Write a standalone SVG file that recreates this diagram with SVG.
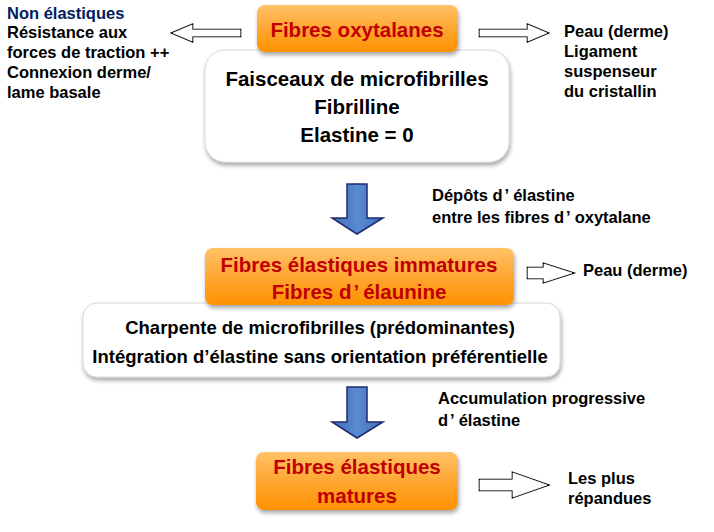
<svg xmlns="http://www.w3.org/2000/svg" xmlns:xlink="http://www.w3.org/1999/xlink" width="714" height="532" viewBox="0 0 714 532">
<defs>
<linearGradient id="og" x1="0" y1="0" x2="0" y2="1">
<stop offset="0" stop-color="#ffc266"/>
<stop offset="0.5" stop-color="#ffa733"/>
<stop offset="1" stop-color="#ff9100"/>
</linearGradient>
<linearGradient id="bg" x1="0" y1="0" x2="1" y2="0">
<stop offset="0" stop-color="#3d6fb8"/>
<stop offset="0.5" stop-color="#5a8ad0"/>
<stop offset="1" stop-color="#3d6fb8"/>
</linearGradient>
<filter id="sh" x="-10%" y="-20%" width="120%" height="150%">
<feDropShadow dx="1" dy="3" stdDeviation="2" flood-color="#000" flood-opacity="0.35"/>
</filter>
<path id="a1" d="M173,33 L192,25 L192,30 L240,30 L240,36 L192,36 L192,41 Z"/>
<path id="a2" d="M480,30 L528,30 L528,25 L547,33 L528,41 L528,36 L480,36 Z"/>
<path id="a3" d="M528,268 L544,268 L544,264 L572,273 L544,282 L544,278 L528,278 Z"/>
<path id="a4" d="M480,480 L513,480 L513,473 L547,485 L513,497 L513,490 L480,490 Z"/>
<style>
text{font-family:"Liberation Sans",Arial,sans-serif;font-weight:bold}
.t{font-size:20.5px;fill:#000;text-anchor:middle}
.t2{font-size:18.5px;fill:#000;text-anchor:middle}
.r{font-size:20.5px;fill:#c00000;text-anchor:middle}
.s{font-size:16.5px;fill:#000}
.n{fill:#002060}
.ob{fill:url(#og);filter:url(#sh)}
.wb{fill:#fff;stroke:#d8d8d8;stroke-width:1;filter:url(#sh)}
.ho{fill:#fff;stroke:#000;stroke-width:2.6;stroke-linejoin:miter}
.hi{fill:#fff;stroke:#fff;stroke-width:0.8;stroke-linejoin:miter}
.ba{fill:url(#bg);stroke:#1f2a6e;stroke-width:1.5}
</style>
</defs>
<rect width="714" height="532" fill="#fff"/>
<g id="connectors">
<use xlink:href="#a1" class="ho"/><use xlink:href="#a1" class="hi"/>
<use xlink:href="#a2" class="ho"/><use xlink:href="#a2" class="hi"/>
<path class="ba" d="M347,184 L367,184 L367,218 L383,218 L357,234 L332,218 L347,218 Z"/>
<use xlink:href="#a3" class="ho"/><use xlink:href="#a3" class="hi"/>
<path class="ba" d="M347,387 L367,387 L367,422 L383,422 L357,438 L332,422 L347,422 Z"/>
<use xlink:href="#a4" class="ho"/><use xlink:href="#a4" class="hi"/>
</g>
<g id="note-left">
<text class="s n" x="7" y="19">Non élastiques</text>
<text class="s" x="7" y="38">Résistance aux</text>
<text class="s" x="7" y="58">forces de traction ++</text>
<text class="s" x="7" y="78">Connexion derme/</text>
<text class="s" x="7" y="98">lame basale</text>
</g>
<g id="note-right">
<text class="s" x="564" y="37">Peau (derme)</text>
<text class="s" x="564" y="57">Ligament</text>
<text class="s" x="564" y="77">suspenseur</text>
<text class="s" x="564" y="97">du cristallin</text>
</g>
<g id="box-oxy-desc">
<rect class="wb" x="205" y="50" width="304" height="112" rx="20"/>
<text class="t" x="357" y="86">Faisceaux de microfibrilles</text>
<text class="t" x="357" y="114">Fibrilline</text>
<text class="t" x="357" y="142">Elastine = 0</text>
</g>
<g id="box-oxy">
<rect class="ob" x="257" y="5" width="201" height="47" rx="8"/>
<text class="r" x="357" y="37">Fibres oxytalanes</text>
</g>
<g id="label-depot">
<text class="s" x="432" y="201">Dépôts d<tspan dx="2">’</tspan><tspan dx="4">élastine</tspan></text>
<text class="s" x="432" y="223">entre les fibres d<tspan dx="2">’</tspan><tspan dx="4">oxytalane</tspan></text>
</g>
<g id="box-imm-desc">
<rect class="wb" x="83" y="303" width="477" height="74" rx="14"/>
<text class="t2" x="320" y="334">Charpente de microfibrilles (prédominantes)</text>
<text class="t2" x="320" y="363">Intégration d’élastine sans orientation préférentielle</text>
</g>
<g id="box-imm">
<rect class="ob" x="205" y="248" width="309" height="57" rx="8"/>
<text class="r" x="359" y="272">Fibres élastiques immatures</text>
<text class="r" x="359" y="299">Fibres d<tspan dx="2">’</tspan><tspan dx="4">élaunine</tspan></text>
</g>
<g id="note-imm">
<text class="s" x="583" y="276">Peau (derme)</text>
</g>
<g id="label-accu">
<text class="s" x="438" y="404">Accumulation progressive</text>
<text class="s" x="438" y="426">d<tspan dx="2">’</tspan><tspan dx="4">élastine</tspan></text>
</g>
<g id="box-mat">
<rect class="ob" x="256" y="452" width="202" height="58" rx="8"/>
<text class="r" x="357" y="474">Fibres élastiques</text>
<text class="r" x="357" y="503">matures</text>
</g>
<g id="note-mat">
<text class="s" x="568" y="484">Les plus</text>
<text class="s" x="568" y="504">répandues</text>
</g>
</svg>
